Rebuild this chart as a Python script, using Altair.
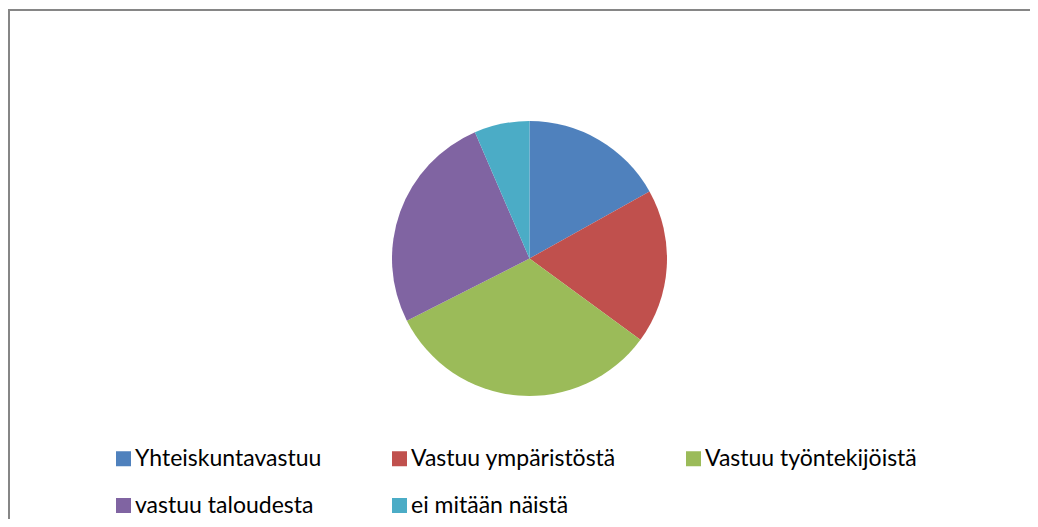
import altair as alt
import pandas as pd

categories = ["Yhteiskuntavastuu", "Vastuu ympäristöstä", "Vastuu työntekijöistä",
              "vastuu taloudesta", "ei mitään näistä"]
values = [13, 14, 25, 20, 5]
colors = ["#4F81BD", "#C0504D", "#9BBB59", "#8064A2", "#4BACC6"]

df = pd.DataFrame({"category": categories, "value": values,
                   "order": list(range(len(categories)))})

W, H = 1022, 511

pie = alt.Chart(df).mark_arc(radius=137.5).encode(
    theta=alt.Theta("value:Q", stack=True),
    order=alt.Order("order:Q"),
    x=alt.value(521.5),
    y=alt.value(250.5),
    color=alt.Color(
        "category:N",
        scale=alt.Scale(domain=categories, range=colors),
        sort=categories,
        legend=alt.Legend(
            title=None,
            orient="none",
            legendX=104,
            legendY=439,
            direction="horizontal",
            columns=3,
            symbolType="square",
            symbolSize=225,
            symbolStrokeWidth=0,
            symbolOpacity=1,
            labelFont="Lato",
            labelFontSize=23,
            labelColor="#000000",
            labelOffset=0,
            labelLimit=400,
            columnPadding=66,
            rowPadding=23,
            padding=0,
        ),
    ),
)

frame_df = pd.DataFrame({"k": [0]})
top_rule = alt.Chart(frame_df).mark_rule(color="#868686", strokeWidth=2).encode(
    x=alt.value(0), x2=alt.value(W), y=alt.value(2)
)
left_rule = alt.Chart(frame_df).mark_rule(color="#868686", strokeWidth=2).encode(
    x=alt.value(1), y=alt.value(2), y2=alt.value(H)
)

chart = alt.layer(top_rule, left_rule, pie).properties(
    width=W, height=H, padding=0,
    autosize=alt.AutoSizeParams(type="none"),
    background="white",
).configure_view(stroke=None)

chart.save("out.html", embed_options={"renderer": "svg", "actions": False})
